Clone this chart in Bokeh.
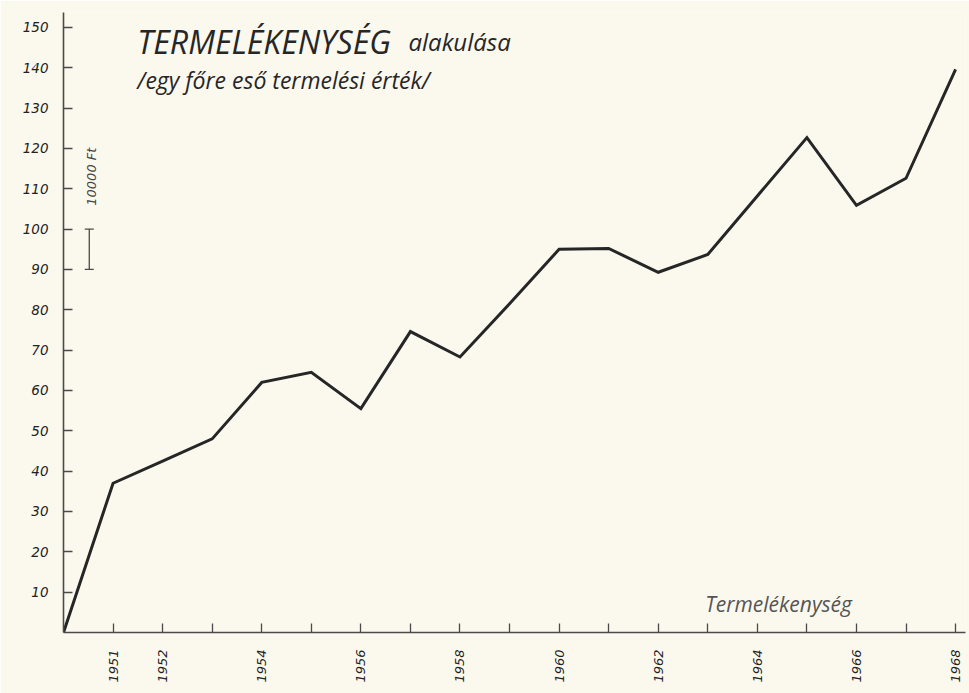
from bokeh.plotting import figure
from bokeh.models import FixedTicker, Label, Range1d, ColumnDataSource
from bokeh.embed import file_html
from bokeh.resources import INLINE

# ---- data ----
years = [1950, 1951, 1952, 1953, 1954, 1955, 1956, 1957, 1958, 1959,
         1960, 1961, 1962, 1963, 1964, 1965, 1966, 1967, 1968]
productivity = [0, 37, 42.5, 48, 62, 64.5, 55.5, 74.6, 68.3, 81.5,
                95, 95.2, 89.3, 93.7, 108.2, 122.7, 105.9, 112.6, 139.6]

x_tick_years = [1951, 1952, 1953, 1954, 1955, 1956, 1957, 1958, 1959,
                1960, 1961, 1962, 1963, 1964, 1965, 1966, 1967, 1968]
x_label_years = [1951, 1952, 1954, 1956, 1958, 1960, 1962, 1964, 1966, 1968]
y_ticks = [10, 20, 30, 40, 50, 60, 70, 80, 90, 100, 110, 120, 130, 140, 150]

scale_bar = [90, 100]          # the "10000 Ft" unit bar (from 90 to 100)
scale_label = "10000 Ft"

title_caps = "TERMELÉKENYSÉG"
title_rest = "alakulása"
subtitle = "/egy főre eső termelési érték/"
series_name = "Termelékenység"

BG = "#fbf9ee"
INK = "#262626"
AXIS = "#4a4a4a"

p = figure(width=969, height=693, output_backend="svg", toolbar_location=None,
           x_range=Range1d(1950, 1968.2), y_range=Range1d(0, 153.7),
           min_border_left=63, min_border_right=4, min_border_top=12,
           min_border_bottom=61)
p.background_fill_color = BG
p.border_fill_color = BG
p.outline_line_color = None
p.xgrid.visible = False
p.ygrid.visible = False

# axes
for ax in (p.xaxis, p.yaxis):
    ax.axis_line_color = AXIS
    ax.axis_line_width = 1.6
    ax.major_tick_line_color = AXIS
    ax.major_tick_line_width = 1.3
    ax.major_tick_in = 9
    ax.major_tick_out = 0
    ax.minor_tick_line_color = None
    ax.major_label_text_font = "DejaVu Sans"
    ax.major_label_text_font_style = "italic"
    ax.major_label_text_color = "#222222"

p.xaxis.ticker = FixedTicker(ticks=x_tick_years)
p.xaxis.major_label_overrides = {y: ("" if y not in x_label_years else str(y))
                                 for y in x_tick_years}
p.xaxis.major_label_orientation = 1.5708
p.xaxis.major_label_text_font_size = "13px"
p.xaxis.major_label_standoff = 17

p.yaxis.ticker = FixedTicker(ticks=y_ticks)
p.yaxis.major_label_text_font_size = "13.5px"
p.yaxis.major_label_standoff = 15

# main series
src = ColumnDataSource(dict(x=years, y=productivity))
p.line("x", "y", source=src, line_color=INK, line_width=3.0, line_join="miter")

# unit scale bar
bar_x = 1950.52
p.segment(x0=[bar_x], y0=[scale_bar[0]], x1=[bar_x], y1=[scale_bar[1]],
          line_color=AXIS, line_width=1.3)
p.scatter(x=[bar_x, bar_x], y=scale_bar, marker="dash", size=9,
          line_color=AXIS, line_width=1.3)
p.add_layout(Label(x=bar_x + 0.04, y=113, text=scale_label, angle=1.5708,
                   text_align="center", text_baseline="middle",
                   text_font="DejaVu Sans", text_font_style="italic",
                   text_font_size="13px", text_color="#444444"))

# titles
p.add_layout(Label(x=1951.49, y=146.6, text=title_caps, text_font="Open Sans",
                   text_font_style="italic", text_font_size="32px",
                   text_color=INK, text_baseline="alphabetic"))
p.add_layout(Label(x=1956.96, y=146.6, text=title_rest, text_font="Open Sans",
                   text_font_style="italic", text_font_size="24px",
                   text_color=INK, text_baseline="alphabetic"))
p.add_layout(Label(x=1951.49, y=137.0, text=subtitle, text_font="Open Sans",
                   text_font_style="italic", text_font_size="23px",
                   text_color=INK, text_baseline="alphabetic"))

# series name near x axis
p.add_layout(Label(x=1962.95, y=7, text=series_name, text_font="Open Sans",
                   text_font_style="italic", text_font_size="21px",
                   text_color="#555555", text_baseline="alphabetic"))

open("out.html", "w").write(file_html(p, INLINE))
